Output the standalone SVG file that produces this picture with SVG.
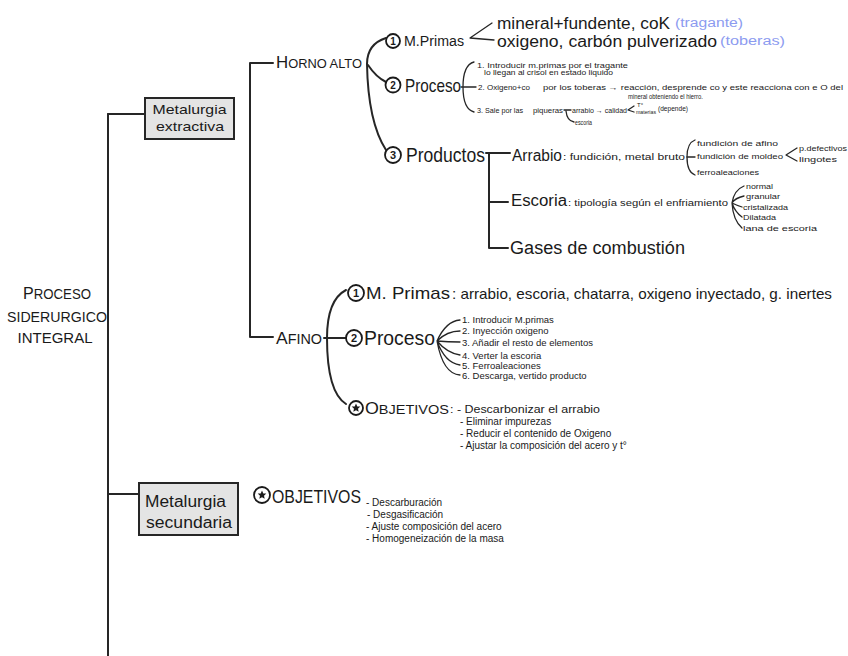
<svg xmlns="http://www.w3.org/2000/svg" width="848" height="656" viewBox="0 0 848 656">
<defs>
<style>
text{font-family:"Liberation Sans","DejaVu Sans",sans-serif;fill:#1a1a1a}
.ln{fill:none;stroke:#262626;stroke-width:2;stroke-linecap:round;stroke-linejoin:round}
.thin{fill:none;stroke:#262626;stroke-width:1.3;stroke-linecap:round;stroke-linejoin:round}
.box{fill:#e4e4e4;stroke:#262626;stroke-width:2}
.num{fill:none;stroke:#1a1a1a;stroke-width:1.8}
.nt{font-weight:bold;text-anchor:middle}
.blue{fill:#8c9bf0}
.s7{font-size:7px}
.s9{font-size:9.5px}
.s10{font-size:10px}
</style>
<polygon id="star" points="0,-4.5 1.3,-1.6 4.3,-1.4 2,0.7 2.7,3.8 0,2.2 -2.7,3.8 -2,0.7 -4.3,-1.4 -1.3,-1.6" fill="#1a1a1a"/>
</defs>
<rect width="848" height="656" fill="#ffffff"/>

<g id="connectors">
<path class="ln" d="M108 114 V656"/>
<path class="ln" d="M108 114 H145"/>
<path class="ln" d="M108 494 H139"/>
<path class="ln" d="M273 63 H250 V337 H273"/>
<path class="ln" d="M386 38 Q367 44 367 64 Q368 122 386 150"/>
<path class="ln" d="M368 65 Q376 77 386 82"/>
<path class="thin" d="M492 23 L470 38 L494 40"/>
<path class="thin" d="M474 62 Q463 65 463 87 Q463 109 474 112"/>
<path class="thin" d="M461 87 H476"/>
<path class="thin" d="M564 110 H571"/>
<path class="thin" d="M566 111 Q567 121 574 122"/>
<path class="thin" d="M634 106 L628 110 L634 112"/>
<path class="ln" d="M486 153 H510"/>
<path class="ln" d="M489 153 V248 H508"/>
<path class="ln" d="M489 202 H508"/>
<path class="thin" d="M695 140 Q687 143 687 157 Q687 172 695 175"/>
<path class="thin" d="M687 157 H695"/>
<path class="thin" d="M797 148 L786 155 L797 161"/>
<path class="thin" d="M744 186 Q734 190 732 203 M744 196 Q735 198 732 203 M742 207 Q736 205 732 203 M742 217 Q735 212 732 203 M742 228 Q733 220 732 203"/>
<path class="ln" d="M346 290 Q327 300 327 338 Q327 392 346 404"/>
<path class="ln" d="M324 338 H346"/>
<path class="thin" d="M437 341 Q446 321 460 320 M437 341 Q447 331 460 331 M437 341 Q448 342 460 342 M437 341 Q447 353 460 355 M437 341 Q445 363 460 365 M437 341 Q443 374 460 375"/>
</g>

<g id="title">
<text x="57" y="299" text-anchor="middle" font-size="14" textLength="68" lengthAdjust="spacingAndGlyphs"><tspan font-size="17">P</tspan>ROCESO</text>
<text x="57" y="322" text-anchor="middle" font-size="14" textLength="100" lengthAdjust="spacingAndGlyphs">SIDERURGICO</text>
<text x="55" y="343" text-anchor="middle" font-size="14" textLength="75" lengthAdjust="spacingAndGlyphs">INTEGRAL</text>
</g>

<g id="metalurgia-extractiva">
<rect class="box" x="145" y="98" width="89" height="41"/>
<text x="189.5" y="114" text-anchor="middle" font-size="13" textLength="74" lengthAdjust="spacingAndGlyphs">Metalurgia</text>
<text x="190" y="131" text-anchor="middle" font-size="13" textLength="68" lengthAdjust="spacingAndGlyphs">extractiva</text>
</g>

<g id="horno-alto">
<text x="276" y="68" font-size="13" textLength="86" lengthAdjust="spacingAndGlyphs"><tspan font-size="17">H</tspan>ORNO ALTO</text>
</g>

<g id="ha-mprimas">
<circle class="num" cx="393" cy="41" r="7"/>
<text class="nt" x="393" y="44.5" font-size="10">1</text>
<text x="404" y="46" font-size="14" textLength="60" lengthAdjust="spacingAndGlyphs">M.Primas</text>
<text x="497" y="29" font-size="16" textLength="173" lengthAdjust="spacingAndGlyphs">mineral+fundente, coK</text>
<text class="blue" x="675" y="27" font-size="12" textLength="68" lengthAdjust="spacingAndGlyphs">(tragante)</text>
<text x="497" y="47" font-size="16" textLength="220" lengthAdjust="spacingAndGlyphs">oxigeno, carbón pulverizado</text>
<text class="blue" x="720" y="45" font-size="12" textLength="65" lengthAdjust="spacingAndGlyphs">(toberas)</text>
</g>

<g id="ha-proceso">
<circle class="num" cx="393" cy="85" r="7.5"/>
<text class="nt" x="393" y="88.5" font-size="10">2</text>
<text x="405" y="92" font-size="19" textLength="56" lengthAdjust="spacingAndGlyphs">Proceso</text>
<text class="s7" x="477" y="68" textLength="151" lengthAdjust="spacingAndGlyphs">1. Introducir m.primas por el tragante</text>
<text class="s7" x="484" y="75" textLength="129" lengthAdjust="spacingAndGlyphs">lo llegan al crisol en estado liquido</text>
<text class="s7" x="478" y="90" textLength="52" lengthAdjust="spacingAndGlyphs">2. Oxigeno+co</text>
<text class="s7" x="543" y="90" textLength="300" lengthAdjust="spacingAndGlyphs">por los toberas → reacción, desprende co y este reacciona con e O del</text>
<text class="s7" x="628" y="99" textLength="75" lengthAdjust="spacingAndGlyphs">mineral obteniendo el hierro.</text>
<text class="s7" x="477" y="113" textLength="46" lengthAdjust="spacingAndGlyphs">3. Sale por las</text>
<text class="s7" x="533" y="113" textLength="30" lengthAdjust="spacingAndGlyphs">piqueras</text>
<text class="s7" x="572" y="113" textLength="55" lengthAdjust="spacingAndGlyphs">arrabio → calidad</text>
<text x="637" y="107" font-size="6">T°</text>
<text x="636" y="114" font-size="6" textLength="20" lengthAdjust="spacingAndGlyphs">materias</text>
<text class="s7" x="658" y="111" textLength="30" lengthAdjust="spacingAndGlyphs">(depende)</text>
<text class="s7" x="575" y="125" textLength="17" lengthAdjust="spacingAndGlyphs">escoria</text>
</g>

<g id="ha-productos">
<circle class="num" cx="393" cy="155" r="8"/>
<text class="nt" x="393" y="159" font-size="11">3</text>
<text x="406" y="162" font-size="20" textLength="79" lengthAdjust="spacingAndGlyphs">Productos</text>
</g>

<g id="arrabio">
<text x="512" y="161" font-size="16" textLength="50" lengthAdjust="spacingAndGlyphs">Arrabio</text>
<text x="563" y="160" font-size="9.5" textLength="122" lengthAdjust="spacingAndGlyphs">: fundición, metal bruto</text>
<text x="697" y="146" font-size="8" textLength="81" lengthAdjust="spacingAndGlyphs">fundición de afino</text>
<text x="697" y="159" font-size="8" textLength="86" lengthAdjust="spacingAndGlyphs">fundición de moldeo</text>
<text x="799" y="151" font-size="8" textLength="48" lengthAdjust="spacingAndGlyphs">p.defectivos</text>
<text x="799" y="162" font-size="8" textLength="38" lengthAdjust="spacingAndGlyphs">lingotes</text>
<text x="697" y="175" font-size="8" textLength="62" lengthAdjust="spacingAndGlyphs">ferroaleaciones</text>
</g>

<g id="escoria">
<text x="511" y="206" font-size="16" textLength="56" lengthAdjust="spacingAndGlyphs">Escoria</text>
<text x="568" y="206" font-size="9.5" textLength="160" lengthAdjust="spacingAndGlyphs">: tipología según el enfriamiento</text>
<text x="746" y="189" font-size="8" textLength="27" lengthAdjust="spacingAndGlyphs">normal</text>
<text x="746" y="199" font-size="8" textLength="34" lengthAdjust="spacingAndGlyphs">granular</text>
<text x="743" y="210" font-size="8" textLength="45" lengthAdjust="spacingAndGlyphs">cristalizada</text>
<text x="743" y="220" font-size="8" textLength="33" lengthAdjust="spacingAndGlyphs">Dilatada</text>
<text x="743" y="231" font-size="8" textLength="74" lengthAdjust="spacingAndGlyphs">lana de escoria</text>
</g>

<g id="gases">
<text x="510" y="254" font-size="18" textLength="175" lengthAdjust="spacingAndGlyphs">Gases de combustión</text>
</g>

<g id="afino">
<text x="276" y="344" font-size="14" textLength="46" lengthAdjust="spacingAndGlyphs"><tspan font-size="17">A</tspan>FINO</text>
</g>

<g id="af-mprimas">
<circle class="num" cx="356" cy="293" r="8"/>
<text class="nt" x="356" y="297" font-size="11">1</text>
<text x="366" y="299" font-size="17" textLength="84" lengthAdjust="spacingAndGlyphs">M. Primas</text>
<text x="452" y="299" font-size="14.5" textLength="380" lengthAdjust="spacingAndGlyphs">: arrabio, escoria, chatarra, oxigeno inyectado, g. inertes</text>
</g>

<g id="af-proceso">
<circle class="num" cx="354" cy="338" r="8"/>
<text class="nt" x="354" y="342" font-size="11">2</text>
<text x="364" y="345" font-size="21" textLength="71" lengthAdjust="spacingAndGlyphs">Proceso</text>
<text class="s9" x="462" y="323">1. Introducir M.primas</text>
<text class="s9" x="462" y="334">2. Inyección oxigeno</text>
<text class="s9" x="462" y="346">3. Añadir el resto de elementos</text>
<text class="s9" x="462" y="359">4. Verter la escoria</text>
<text class="s9" x="462" y="369">5. Ferroaleaciones</text>
<text class="s9" x="462" y="379">6. Descarga, vertido producto</text>
</g>

<g id="af-objetivos">
<circle class="num" cx="356" cy="408" r="7"/>
<use href="#star" x="356" y="408"/>
<text x="365" y="414" font-size="13" textLength="84" lengthAdjust="spacingAndGlyphs"><tspan font-size="16">O</tspan>BJETIVOS</text>
<text class="s10" x="450" y="413" textLength="150" lengthAdjust="spacingAndGlyphs">: - Descarbonizar el arrabio</text>
<text class="s10" x="460" y="425">- Eliminar impurezas</text>
<text class="s10" x="460" y="437">- Reducir el contenido de Oxigeno</text>
<text class="s10" x="460" y="449">- Ajustar la composición del acero y t°</text>
</g>

<g id="metalurgia-secundaria">
<rect class="box" x="139" y="483" width="99" height="52"/>
<text x="185.5" y="507" text-anchor="middle" font-size="16" textLength="81" lengthAdjust="spacingAndGlyphs">Metalurgia</text>
<text x="189" y="528" text-anchor="middle" font-size="16" textLength="86" lengthAdjust="spacingAndGlyphs">secundaria</text>
</g>

<g id="ms-objetivos">
<circle class="num" cx="262" cy="495" r="8"/>
<use href="#star" x="262" y="495"/>
<text x="272" y="503" font-size="18" textLength="89" lengthAdjust="spacingAndGlyphs">OBJETIVOS</text>
<text class="s10" x="366" y="506">- Descarburación</text>
<text class="s10" x="367" y="518">- Desgasificación</text>
<text class="s10" x="366" y="530">- Ajuste composición del acero</text>
<text class="s10" x="366" y="542">- Homogeneización de la masa</text>
</g>
</svg>
